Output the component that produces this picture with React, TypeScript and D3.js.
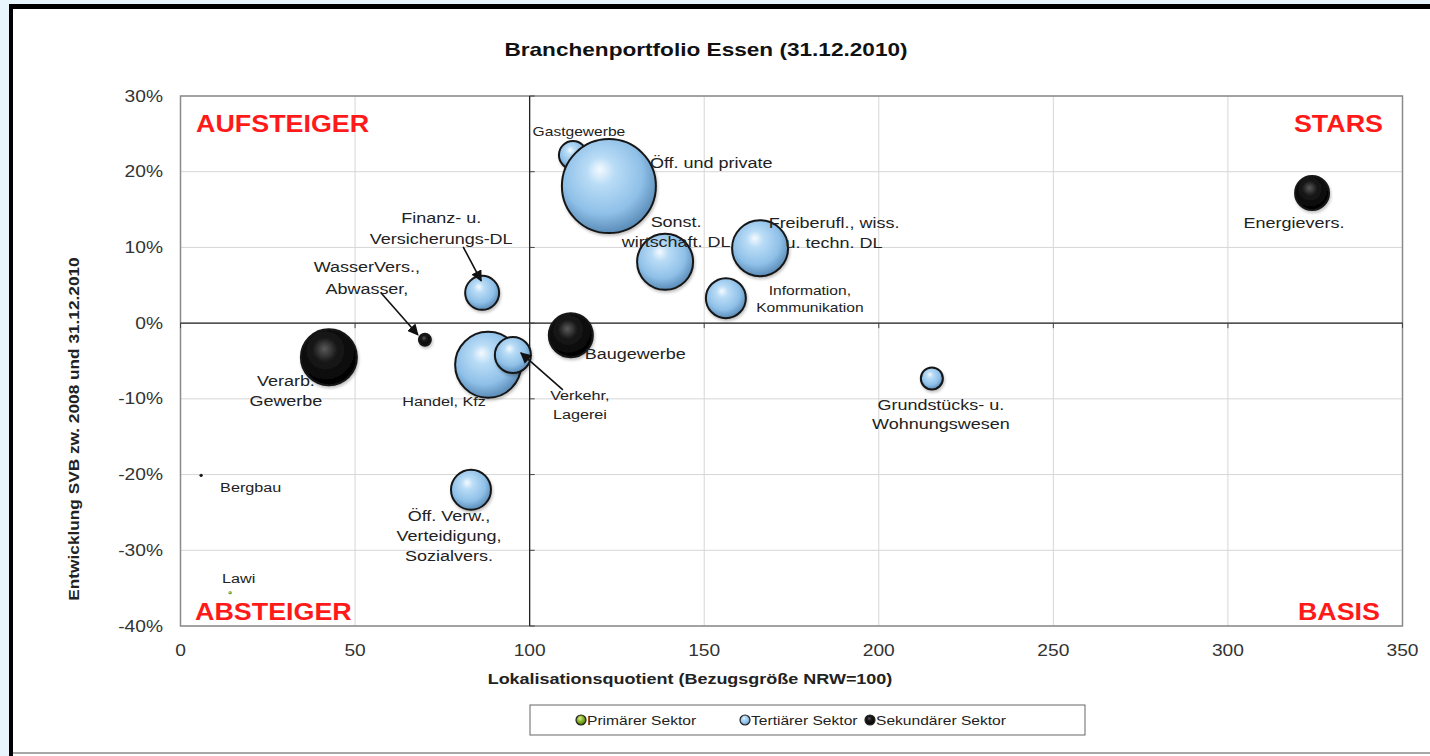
import React from "react";
import * as d3 from "d3";

// ---------- data ----------
const branches = [
  "Gastgewerbe",
  "Öff. und private DL",
  "Sonst. wirtschaft. DL",
  "Freiberufl., wiss. u. techn. DL",
  "Information, Kommunikation",
  "Finanz- u. Versicherungs-DL",
  "WasserVers., Abwasser",
  "Verarb. Gewerbe",
  "Handel, Kfz",
  "Verkehr, Lagerei",
  "Baugewerbe",
  "Grundstücks- u. Wohnungswesen",
  "Energievers.",
  "Öff. Verw., Verteidigung, Sozialvers.",
  "Bergbau",
  "Lawi",
];
const lq = [112.4, 122.7, 138.8, 166.0, 156.2, 86.4, 70.0, 42.5, 88.1, 95.2, 111.8, 215.2, 324.1, 83.2, 5.9, 14.2];
const growth = [22.2, 18.1, 8.1, 9.9, 3.3, 4.0, -2.2, -4.5, -5.5, -4.2, -1.6, -7.3, 17.2, -22.0, -20.1, -35.6];
const employees = [5500, 62000, 22000, 22000, 11200, 8100, 1000, 22000, 30500, 9100, 13600, 3400, 8100, 11200, 60, 60];
const sector = ["T", "T", "T", "T", "T", "T", "S", "S", "T", "T", "S", "T", "S", "T", "S", "P"];

const xTicks = [0, 50, 100, 150, 200, 250, 300, 350];
const yTicks = [30, 20, 10, 0, -10, -20, -30, -40];
const legendItems = [
  { key: "P", label: "Primärer Sektor" },
  { key: "T", label: "Tertiärer Sektor" },
  { key: "S", label: "Sekundärer Sektor" },
];
const quadrants = ["AUFSTEIGER", "STARS", "ABSTEIGER", "BASIS"];
const title = "Branchenportfolio Essen (31.12.2010)";
const xTitle = "Lokalisationsquotient (Bezugsgröße NRW=100)";
const yTitle = "Entwicklung SVB zw. 2008 und 31.12.2010";

// ---------- label layout (offsets from bubble centre, px) ----------
type Lab = { lines: string[]; dx: number; dy: number; anchor: string; size: number; lh: number; arrow?: [number, number, number, number] };
const labels: Lab[] = [
  { lines: ["Gastgewerbe"], dx: 6, dy: -24, anchor: "middle", size: 13, lh: 18 },
  { lines: ["Öff. und private"], dx: 41, dy: -23, anchor: "start", size: 15, lh: 20 },
  { lines: ["Sonst.", "wirtschaft. DL"], dx: 11, dy: -40, anchor: "middle", size: 15, lh: 20 },
  { lines: ["Freiberufl., wiss.", "u. techn. DL"], dx: 74, dy: -25, anchor: "middle", size: 15, lh: 20 },
  { lines: ["Information,", "Kommunikation"], dx: 84, dy: -8, anchor: "middle", size: 13, lh: 17 },
  { lines: ["Finanz- u.", "Versicherungs-DL"], dx: -41, dy: -75, anchor: "middle", size: 15, lh: 21, arrow: [-19, -46, -1, -12] },
  { lines: ["WasserVers.,", "Abwasser,"], dx: -58, dy: -73, anchor: "middle", size: 15, lh: 22, arrow: [-44, -47, -7, -5] },
  { lines: ["Verarb.", "Gewerbe"], dx: -43, dy: 24, anchor: "middle", size: 15, lh: 20 },
  { lines: ["Handel, Kfz"], dx: -44, dy: 36, anchor: "middle", size: 13.5, lh: 18 },
  { lines: ["Verkehr,", "Lagerei"], dx: 67, dy: 40, anchor: "middle", size: 13.5, lh: 19, arrow: [50, 35, 8, -2] },
  { lines: ["Baugewerbe"], dx: 14, dy: 18, anchor: "start", size: 15, lh: 20 },
  { lines: ["Grundstücks- u.", "Wohnungswesen"], dx: 9, dy: 26, anchor: "middle", size: 15, lh: 19 },
  { lines: ["Energievers."], dx: -18, dy: 30, anchor: "middle", size: 15, lh: 20 },
  { lines: ["Öff. Verw.,", "Verteidigung,", "Sozialvers."], dx: -22, dy: 26, anchor: "middle", size: 15, lh: 20 },
  { lines: ["Bergbau"], dx: 19, dy: 12, anchor: "start", size: 13.5, lh: 18 },
  { lines: ["Lawi"], dx: -8, dy: -14, anchor: "start", size: 13.5, lh: 18 },
];

const W = 1430;
const H = 756;
const L = 180.5, R = 1402.5, T = 96, B = 626;
const FONT = "'Liberation Sans', Arial, sans-serif";
const SX = 1.2;

function Txt(props: { x: number; y: number; anchor?: string; size: number; sx?: number; bold?: boolean; fill?: string; children: any }) {
  const { x, y, anchor = "start", size, sx = SX, bold, fill = "#222", children } = props;
  return (
    <text transform={`translate(${x},${y}) scale(${sx},1)`} dy="0.35em" textAnchor={anchor as any}
      fontSize={size} fontWeight={bold ? "bold" : "normal"} fill={fill}>{children}</text>
  );
}

export default function App() {
  const x = d3.scaleLinear().domain([0, 350]).range([L, R]);
  const y = d3.scaleLinear().domain([-40, 30]).range([B, T]);
  const r = d3.scaleSqrt().domain([0, 62000]).range([0, 47]);

  const pts = branches.map((name, i) => ({
    name, i, cx: x(lq[i]), cy: y(growth[i]), rad: Math.max(1.6, r(employees[i])), sec: sector[i],
  }));
  const order = [...pts].sort((a, b) => {
    if (a.name === "Gastgewerbe" && b.name.startsWith("Öff. und")) return -1;
    if (b.name === "Gastgewerbe" && a.name.startsWith("Öff. und")) return 1;
    return b.rad - a.rad;
  });

  const fillFor = (s: string) => (s === "T" ? "url(#gT)" : s === "S" ? "url(#gS)" : "url(#gP)");

  return (
    <div style={{ position: "absolute", left: 0, top: 0, width: W, height: H }}>
      <svg width={W} height={H} style={{ display: "block" }} fontFamily={FONT}>
        <defs>
          <radialGradient id="gT" cx="45%" cy="40%" r="60%" fx="40%" fy="32%">
            <stop offset="0%" stopColor="#f4faff" />
            <stop offset="25%" stopColor="#b9dcf6" />
            <stop offset="70%" stopColor="#8fc0e8" />
            <stop offset="100%" stopColor="#5a8cb8" />
          </radialGradient>
          <radialGradient id="gS" cx="45%" cy="40%" r="60%" fx="42%" fy="35%">
            <stop offset="0%" stopColor="#5a5a5a" />
            <stop offset="35%" stopColor="#1a1a1a" />
            <stop offset="100%" stopColor="#000" />
          </radialGradient>
          <radialGradient id="gP" cx="45%" cy="40%" r="60%" fx="40%" fy="32%">
            <stop offset="0%" stopColor="#d8f08a" />
            <stop offset="60%" stopColor="#7cab1c" />
            <stop offset="100%" stopColor="#3f6a00" />
          </radialGradient>
          <marker id="arr" viewBox="0 0 10 10" refX="9" refY="5" markerWidth="7" markerHeight="7" orient="auto-start-reverse">
            <path d="M0,0 L10,5 L0,10 z" fill="#111" />
          </marker>
          <filter id="sh" x="-30%" y="-30%" width="160%" height="160%">
            <feGaussianBlur in="SourceAlpha" stdDeviation="1.5" />
            <feOffset dx="1" dy="2" result="o" />
            <feComponentTransfer><feFuncA type="linear" slope="0.25" /></feComponentTransfer>
            <feMerge><feMergeNode /><feMergeNode in="SourceGraphic" /></feMerge>
          </filter>
        </defs>

        {/* frame */}
        <rect x={0} y={0} width={W} height={H} fill="#e8f5fd" />
        <rect x={9} y={4} width={W - 9} height={H - 4} fill="#fff" />
        <rect x={9} y={4} width={W - 9} height={5} fill="#000" />
        <rect x={9} y={4} width={4} height={H - 4} fill="#000" />
        <rect x={13} y={752} width={W - 13} height={2} fill="#a8a8a8" />

        {/* title */}
        <Txt x={706} y={49} anchor="middle" size={19} sx={1.19} bold fill="#111">{title}</Txt>

        {/* grid */}
        {xTicks.map((t) => (
          <line key={"gx" + t} x1={x(t)} x2={x(t)} y1={T} y2={B} stroke="#d6d6d6" strokeWidth={1} />
        ))}
        {yTicks.map((t) => (
          <line key={"gy" + t} x1={L} x2={R} y1={y(t)} y2={y(t)} stroke="#d6d6d6" strokeWidth={1} />
        ))}
        <rect x={L} y={T} width={R - L} height={B - T} fill="none" stroke="#8a8a8a" strokeWidth={1.5} />

        {/* crossing axes */}
        <line x1={x(100)} x2={x(100)} y1={T} y2={B} stroke="#222" strokeWidth={1.3} />
        <line x1={L} x2={R} y1={y(0)} y2={y(0)} stroke="#222" strokeWidth={1.3} />
        {yTicks.map((t) => (
          <line key={"ty" + t} x1={x(100)} x2={x(100) + 5} y1={y(t)} y2={y(t)} stroke="#444" />
        ))}
        {xTicks.map((t) => (
          <line key={"tx" + t} x1={x(t)} x2={x(t)} y1={y(0)} y2={y(0) + 5} stroke="#444" />
        ))}

        {/* tick labels */}
        {yTicks.map((t) => (
          <Txt key={"ly" + t} x={163} y={y(t)} anchor="end" size={16} fill="#333">{t + "%"}</Txt>
        ))}
        {xTicks.map((t) => (
          <Txt key={"lx" + t} x={x(t)} y={650} anchor="middle" size={16} fill="#333">{t}</Txt>
        ))}

        {/* axis titles */}
        <Txt x={690} y={679} anchor="middle" size={15} bold>{xTitle}</Txt>
        <g transform="translate(74,429) rotate(-90)">
          <Txt x={0} y={0} anchor="middle" size={15} sx={1.15} bold>{yTitle}</Txt>
        </g>

        {/* quadrant labels */}
        <Txt x={196} y={124} size={24} sx={1.12} bold fill="#ff1a1a">{quadrants[0]}</Txt>
        <Txt x={1383} y={124} anchor="end" size={24} sx={1.12} bold fill="#ff1a1a">{quadrants[1]}</Txt>
        <Txt x={195} y={612} size={24} sx={1.12} bold fill="#ff1a1a">{quadrants[2]}</Txt>
        <Txt x={1380} y={612} anchor="end" size={24} sx={1.12} bold fill="#ff1a1a">{quadrants[3]}</Txt>

        {/* bubbles */}
        {order.map((p) => (
          <circle key={"b" + p.i} cx={p.cx} cy={p.cy} r={p.rad} fill={fillFor(p.sec)}
            stroke={p.rad > 3 ? "#161616" : "none"} strokeWidth={2} filter={p.rad > 3 ? "url(#sh)" : undefined} />
        ))}

        {/* labels */}
        {pts.map((p) => {
          const lab = labels[p.i];
          return (
            <g key={"l" + p.i}>
              {lab.lines.map((ln, k) => (
                <Txt key={k} x={p.cx + lab.dx} y={p.cy + lab.dy + k * lab.lh} anchor={lab.anchor} size={lab.size}>{ln}</Txt>
              ))}
              {lab.arrow && (
                <line x1={p.cx + lab.arrow[0]} y1={p.cy + lab.arrow[1]} x2={p.cx + lab.arrow[2]} y2={p.cy + lab.arrow[3]}
                  stroke="#111" strokeWidth={1.6} markerEnd="url(#arr)" />
              )}
            </g>
          );
        })}

        {/* legend */}
        <rect x={530} y={705} width={555} height={30} fill="#fff" stroke="#666" strokeWidth={1} />
        {legendItems.map((it, k) => {
          const lx = [581, 745, 870][k];
          return (
            <g key={it.key}>
              <circle cx={lx} cy={720} r={5} fill={fillFor(it.key)} stroke="#222" strokeWidth={1.2} />
              <Txt x={lx + 6} y={720} size={13}>{it.label}</Txt>
            </g>
          );
        })}
      </svg>
    </div>
  );
}
